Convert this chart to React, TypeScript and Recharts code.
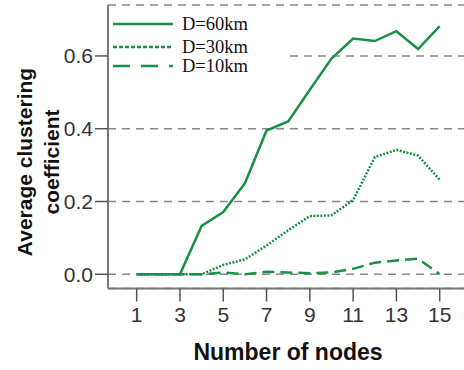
import React from 'react';
import { LineChart, Line, XAxis, YAxis, CartesianGrid, Label } from 'recharts';

const nodes = [1, 2, 3, 4, 5, 6, 7, 8, 9, 10, 11, 12, 13, 14, 15];
const d60 = [0, 0, 0, 0.133, 0.171, 0.25, 0.395, 0.42, 0.507, 0.593, 0.648, 0.641, 0.668, 0.619, 0.682];
const d30 = [0, 0, 0, 0, 0.026, 0.041, 0.079, 0.121, 0.16, 0.162, 0.204, 0.322, 0.342, 0.326, 0.26];
const d10 = [0, 0, 0, 0, 0.005, 0, 0.007, 0.005, 0.003, 0.005, 0.015, 0.032, 0.038, 0.043, 0];
const xTicks = [1, 3, 5, 7, 9, 11, 13, 15];
const yTicks = [0, 0.2, 0.4, 0.6];
const seriesNames = ['D=60km', 'D=30km', 'D=10km'];

const data = nodes.map((n, i) => ({ n, d60: d60[i], d30: d30[i], d10: d10[i] }));

const GREEN = '#1c8f47';
const SANS = '"Liberation Sans", Arial, sans-serif';
const SERIF = '"Liberation Serif", "Times New Roman", serif';

const legendDash = ['', '4 2', '17 11'];

const LegendBox = () => (
  <div style={{ position: 'absolute', left: 109, top: 8, background: '#fff', width: 176, height: 72 }}>
    <svg width={176} height={72} style={{ display: 'block' }}>
      {seriesNames.map((name, i) => {
        const y = [16, 39, 58][i];
        return (
          <g key={name}>
            <line x1={4} x2={64} y1={y} y2={y} stroke={GREEN} strokeWidth={2.5} strokeDasharray={legendDash[i] || undefined} />
            <text x={73} y={y + 6} fontFamily={SERIF} fontSize={18.5} fill="#111">{name}</text>
          </g>
        );
      })}
    </svg>
  </div>
);

export default function App() {
  return (
    <div style={{ position: 'absolute', left: 0, top: 0, width: 464, height: 370, overflow: 'hidden', background: '#fff' }}>
      <LineChart width={484} height={370} data={data} margin={{ top: 5, right: 1, bottom: 0, left: 0 }}>
        <CartesianGrid vertical={false} stroke="#888" strokeWidth={1.5} strokeDasharray="8 6" />
        <XAxis
          dataKey="n"
          type="number"
          domain={[-0.325, 17]}
          allowDataOverflow
          ticks={xTicks}
          height={81.5}
          tickSize={13}
          tickMargin={6}
          axisLine={{ stroke: '#777', strokeWidth: 2 }}
          tickLine={{ stroke: '#555', strokeWidth: 1.5 }}
          tick={{ fontFamily: SANS, fontSize: 21, fill: '#333' }}
        >
          <Label
            content={() => (
              <text x={288} y={360} textAnchor="middle" fontFamily={SANS} fontWeight="bold" fontSize={23} fill="#111">
                Number of nodes
              </text>
            )}
          />
        </XAxis>
        <XAxis xAxisId="top" orientation="top" type="number" domain={[-0.325, 17]} height={0} tick={false} tickLine={false} axisLine={{ stroke: '#777', strokeWidth: 2 }} />
        <YAxis
          type="number"
          domain={[-0.039, 0.74]}
          allowDataOverflow
          ticks={yTicks}
          width={108}
          tickSize={13}
          tickMargin={2}
          tickFormatter={(v: number) => v.toFixed(1)}
          axisLine={{ stroke: '#777', strokeWidth: 2 }}
          tickLine={{ stroke: '#555', strokeWidth: 1.5 }}
          tick={{ fontFamily: SANS, fontSize: 21, fill: '#333' }}
        >
          <Label
            content={() => (
              <g>
                <text x={32} y={162} transform="rotate(-90 32 162)" textAnchor="middle" fontFamily={SANS} fontWeight="bold" fontSize={21} fill="#111">
                  Average clustering
                </text>
                <text x={59} y={162} transform="rotate(-90 59 162)" textAnchor="middle" fontFamily={SANS} fontWeight="bold" fontSize={21} fill="#111">
                  coefficient
                </text>
              </g>
            )}
          />
        </YAxis>
        <Line dataKey="d10" name={seriesNames[2]} stroke={GREEN} strokeWidth={2.5} strokeDasharray="12 6" dot={false} isAnimationActive={false} />
        <Line dataKey="d30" name={seriesNames[1]} stroke={GREEN} strokeWidth={2.5} strokeDasharray="2 1.5" dot={false} isAnimationActive={false} />
        <Line dataKey="d60" name={seriesNames[0]} stroke={GREEN} strokeWidth={2.5} dot={false} isAnimationActive={false} />
      </LineChart>
      <LegendBox />
    </div>
  );
}
